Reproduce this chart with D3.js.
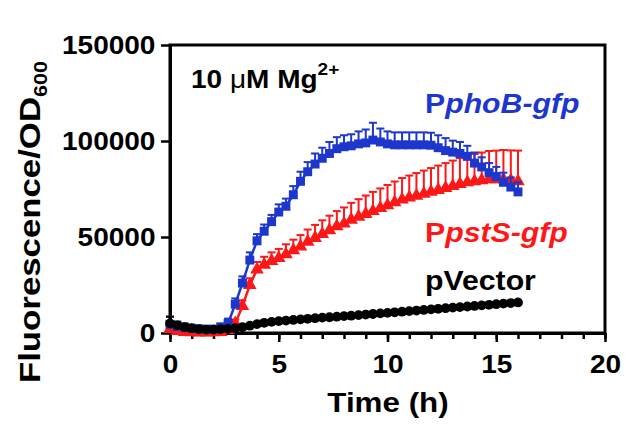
<!DOCTYPE html>
<html>
<head>
<meta charset="utf-8">
<script src="https://d3js.org/d3.v7.min.js"></script>
<style>
  body { margin: 0; background: #fff; }
  text { font-family: "Liberation Sans", Arial, sans-serif; font-weight: bold; }
</style>
</head>
<body>
<div id="chart"></div>
<script>
// time points (h)
var times = [0, 0.33, 0.67, 1, 1.33, 1.67, 2, 2.33, 2.67, 3, 3.33, 3.67, 4, 4.33, 4.67, 5, 5.33, 5.67, 6, 6.33, 6.67, 7, 7.33, 7.67, 8, 8.33, 8.67, 9, 9.33, 9.67, 10, 10.33, 10.67, 11, 11.33, 11.67, 12, 12.33, 12.67, 13, 13.33, 13.67, 14, 14.33, 14.67, 15, 15.33, 15.67, 16];

// PphoB-gfp
var phoB = [4500, 3500, 3000, 2500, 2200, 2000, 2000, 3000, 5000, 15000, 26000, 38000, 48000, 53000, 58000, 63000, 66000, 72000, 79000, 84000, 88000, 91000, 93500, 96000, 97000, 97500, 98500, 99000, 100500, 99500, 98500, 98000, 98000, 98000, 98000, 98000, 97800, 96500, 95000, 94200, 93500, 92000, 88500, 86500, 83500, 81500, 78500, 76000, 73500];
var phoBErr = [4000, 2500, 2000, 1500, 1500, 1500, 1500, 2000, 2500, 3000, 3500, 4000, 3500, 3500, 3500, 4000, 4000, 4500, 5000, 5000, 5500, 5500, 6000, 6000, 6000, 6000, 6500, 7000, 9000, 7000, 6500, 6500, 6500, 6500, 6500, 6500, 6500, 6500, 6500, 6000, 6000, 5500, 5500, 5000, 5000, 5000, 5000, 5000, 5000];

// PpstS-gfp
var pstS = [2000, 1000, 500, 300, 200, 200, 300, 500, 1500, 5000, 14000, 25000, 33000, 35500, 37500, 39000, 41000, 43000, 45000, 47500, 49500, 51500, 53500, 55500, 57000, 59000, 60500, 62000, 63500, 65000, 66500, 68000, 69500, 70500, 71500, 72500, 73500, 74500, 75500, 76500, 77500, 78500, 79000, 79500, 80000, 80000, 80000, 79500, 79000];
var pstSErr = [1500, 1000, 1000, 1000, 1000, 1000, 1000, 1000, 1500, 2000, 3000, 3500, 4000, 4200, 4500, 4800, 5200, 5600, 6000, 6400, 6800, 7200, 7600, 8000, 8400, 8800, 9200, 9600, 10000, 10300, 10600, 10900, 11200, 11500, 11800, 12100, 12400, 12700, 13000, 13300, 13600, 13900, 14200, 14500, 14800, 15000, 15300, 15600, 16000];

// pVector
var vec = [5000, 4000, 3000, 2500, 2000, 1800, 1800, 2000, 2200, 2500, 3000, 3800, 4600, 5300, 5800, 6200, 6500, 6800, 7100, 7400, 7700, 8000, 8200, 8500, 8800, 9000, 9300, 9600, 9900, 10200, 10500, 10800, 11100, 11400, 11700, 12000, 12300, 12600, 12900, 13200, 13500, 13800, 14100, 14400, 14700, 15000, 15300, 15600, 15900];
var vecErr = [3500, 1500, 800, 500, 500, 500, 500, 500, 500, 500, 500, 500, 500, 500, 500, 500, 500, 500, 500, 500, 500, 500, 500, 500, 500, 500, 500, 500, 500, 500, 500, 500, 500, 500, 500, 500, 500, 500, 500, 500, 500, 500, 500, 500, 500, 500, 500, 500, 500];

var xTicks = [0, 5, 10, 15, 20];
var yTicks = [0, 50000, 100000, 150000];

var blue = "#1d36cc", red = "#ff1717";
var stretch = 1.12;

var svg = d3.select("#chart").append("svg")
    .attr("width", 642)
    .attr("height", 437);

// plot area (don't call it "top", window.top is taken)
var pLeft = 170, pRight = 605, pTop = 45, pBottom = 333;
var x = d3.scaleLinear().domain([0, 20]).range([pLeft, pRight]);
var y = d3.scaleLinear().domain([0, 150000]).range([pBottom, pTop]);

// frame
svg.append("rect")
    .attr("x", pLeft).attr("y", pTop)
    .attr("width", pRight - pLeft).attr("height", pBottom - pTop)
    .attr("fill", "none").attr("stroke", "#000").attr("stroke-width", 3);

// axes
var yAxis = svg.append("g")
    .attr("transform", "translate(" + pLeft + ",0)")
    .call(d3.axisLeft(y).tickValues(yTicks).tickSize(9).tickSizeOuter(0).tickPadding(4).tickFormat(d3.format("d")));
var xMinor = svg.append("g")
    .attr("transform", "translate(0," + pBottom + ")")
    .call(d3.axisBottom(x).tickValues(d3.range(0, 21)).tickSize(6).tickSizeOuter(0).tickFormat(""));
var xAxis = svg.append("g")
    .attr("transform", "translate(0," + pBottom + ")")
    .call(d3.axisBottom(x).tickValues(xTicks).tickSize(9).tickSizeOuter(0).tickPadding(13));

[yAxis, xMinor, xAxis].forEach(function(g) {
    g.select(".domain").attr("stroke-width", 3);
    g.selectAll(".tick line").attr("stroke-width", 2.5);
    g.selectAll(".tick text")
        .style("font-size", "25px")
        .style("font-family", "Liberation Sans, Arial, sans-serif")
        .style("font-weight", "bold")
        .attr("fill", "#000");
});
yAxis.selectAll(".tick text").attr("transform", "scale(" + stretch + ",1)");
xAxis.selectAll(".tick text").attr("transform", "scale(" + stretch + ",1)");

// one series with error bars above the points
function drawSeries(vals, errs, color, shape) {
    var pts = times.map(function(t, i) { return { t: t, v: vals[i], e: errs[i] }; });
    var g = svg.append("g");
    g.selectAll(".bar").data(pts).enter().append("line")
        .attr("x1", function(d) { return x(d.t); })
        .attr("x2", function(d) { return x(d.t); })
        .attr("y1", function(d) { return y(d.v); })
        .attr("y2", function(d) { return y(d.v + d.e); })
        .attr("stroke", color).attr("stroke-width", 2);
    g.selectAll(".cap").data(pts).enter().append("line")
        .attr("x1", function(d) { return x(d.t) - 4; })
        .attr("x2", function(d) { return x(d.t) + 4; })
        .attr("y1", function(d) { return y(d.v + d.e); })
        .attr("y2", function(d) { return y(d.v + d.e); })
        .attr("stroke", color).attr("stroke-width", 2);
    g.append("path").datum(pts)
        .attr("d", d3.line().x(function(d) { return x(d.t); }).y(function(d) { return y(d.v); }))
        .attr("fill", "none").attr("stroke", color).attr("stroke-width", 2.5);
    g.selectAll(".pt").data(pts).enter().append("path")
        .attr("transform", function(d) { return "translate(" + x(d.t) + "," + y(d.v) + ")"; })
        .attr("d", d3.symbol().type(shape).size(shape === d3.symbolCircle ? 75 : 80))
        .attr("fill", color);
}
drawSeries(pstS, pstSErr, red, d3.symbolTriangle);
drawSeries(phoB, phoBErr, blue, d3.symbolSquare);
drawSeries(vec, vecErr, "#000", d3.symbolCircle);

// labels
function label(px, py, size, color) {
    return svg.append("text")
        .attr("transform", "translate(" + px + "," + py + ") scale(" + stretch + ",1)")
        .style("font-size", size + "px")
        .attr("fill", color);
}
var t1 = label(191, 88, 25, "#000");
t1.append("tspan").text("10 ");
t1.append("tspan").text("\u03bc").style("font-weight", "normal");
t1.append("tspan").text("M Mg");
t1.append("tspan").text("2+").attr("dy", -13).style("font-size", "17px");

var t2 = label(425, 113, 27, blue);
t2.append("tspan").text("P");
t2.append("tspan").text("phoB-gfp").style("font-style", "italic");

var t3 = label(425, 242, 27, red);
t3.append("tspan").text("P");
t3.append("tspan").text("pstS-gfp").style("font-style", "italic");

label(425, 290, 27, "#000").text("pVector");

// axis titles
label(388, 412, 28, "#000").attr("text-anchor", "middle").text("Time (h)");

var yt = svg.append("text")
    .attr("transform", "translate(40,222) rotate(-90) scale(1.2,1)")
    .attr("text-anchor", "middle")
    .style("font-size", "29px")
    .attr("fill", "#000");
yt.append("tspan").text("Fluorescence/OD");
yt.append("tspan").text("600").attr("dy", 7).style("font-size", "18px");
</script>
</body>
</html>
